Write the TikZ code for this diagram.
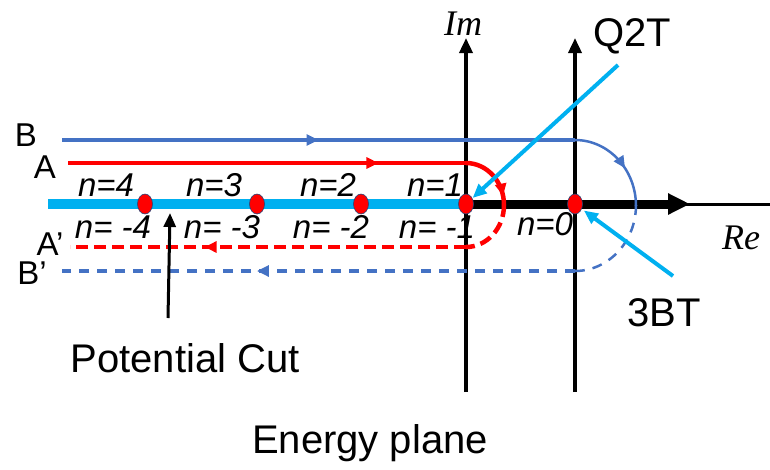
\documentclass[tikz,border=0pt]{standalone}
\usepackage{fontspec}
\setmainfont{Liberation Serif}
\setsansfont{Liberation Sans}
\usepackage{tikz}
\usetikzlibrary{arrows.meta,decorations.markings}
\definecolor{cutcyan}{RGB}{0,176,240}
\definecolor{loopblue}{RGB}{68,114,196}
\definecolor{loopred}{RGB}{255,0,0}
\tikzset{
  lbl/.style={font=\sffamily\fontsize{40}{40}\selectfont},
  endlbl/.style={font=\sffamily\fontsize{33}{33}\selectfont},
  nlbl/.style={font=\sffamily\itshape\fontsize{33}{33}\selectfont},
  axlbl/.style={font=\itshape\fontsize{36}{36}\selectfont},
  midarrow/.style={postaction={decorate},decoration={markings,
      mark=at position #1 with {\arrow{Triangle[length=12pt,width=11pt]}}}},
  blueloop/.style={loopblue,line width=3.5pt},
  redloop/.style={loopred,line width=4.5pt},
  pole/.style={fill=loopred,draw=loopblue!60!black,line width=0.6pt},
  axis/.style={line width=3.5pt,-{Triangle[length=15pt,width=13pt]}}
}
\begin{document}
\begin{tikzpicture}[x=1pt,y=-1pt]
  \useasboundingbox (0,0) rectangle (770,469);
  % cut and real axis
  \coordinate (cutL) at (48,204);
  \coordinate (pA) at (466,204);
  \coordinate (pO) at (575,204);
  \draw[cutcyan,line width=10pt] (cutL) -- (pA);
  \draw[line width=3pt] (pA) -- (770,204);
  \draw[line width=9pt,-{Triangle[length=22pt,width=20pt]}] (pA) -- (690,204);
  % imaginary axes
  \draw[axis] (466,392) -- (466,38);
  \draw[axis] (575,392) -- (575,38);
  \node[axlbl] (im) at (463,24) {Im};
  \node[axlbl] (re) at (741,238) {Re};
  % contour B -> B'
  \coordinate (bIn) at (62,140);
  \coordinate (bTop) at (575,140);
  \coordinate (bBot) at (575,271);
  \coordinate (bOut) at (62,271);
  \draw[blueloop,midarrow=0.5] (bIn) -- (bTop);
  \draw[loopblue,line width=2.5pt,midarrow=0.6] (bTop) arc[start angle=-90,end angle=0,x radius=61,y radius=66];
  \draw[loopblue,line width=2.5pt,dash pattern=on 10pt off 8pt] (636,205) arc[start angle=0,end angle=90,x radius=61,y radius=66];
  \draw[blueloop,dash pattern=on 10pt off 8pt,midarrow=0.62] (bBot) -- (bOut);
  % contour A -> A'
  \coordinate (aIn) at (68,163);
  \coordinate (aTop) at (466,163);
  \coordinate (aBot) at (466,247);
  \coordinate (aOut) at (70,247);
  \draw[redloop,midarrow=0.78] (aIn) -- (aTop);
  \draw[redloop,midarrow=0.85] (aTop) arc[start angle=-90,end angle=0,x radius=38,y radius=42];
  \draw[redloop,dash pattern=on 12pt off 6pt] (504,205) arc[start angle=0,end angle=90,x radius=38,y radius=42];
  \draw[redloop,dash pattern=on 12pt off 6pt,midarrow=0.66] (aBot) -- (aOut);
  \node[endlbl] (lB) at (26,135) {B};
  \node[endlbl] (lA) at (45,167) {A};
  \node[endlbl] (lAp) at (50,244) {A’};
  \node[endlbl] (lBp) at (32,273) {B’};
  % poles
  \foreach \x in {145,257,361,466,575}
    \draw[pole] (\x,204) ellipse (7.5 and 10);
  \foreach \x/\k in {106/4,214/3,328/2,435/1}
    \node[nlbl] (np\k) at (\x,185) {n=\k};
  \foreach \x/\k in {113/4,222/3,331/2,437/1}
    \node[nlbl] (nm\k) at (\x,227) {n= -\k};
  \node[nlbl] (n0) at (545,224) {n=0};
  % thresholds
  \node[lbl] (q2t) at (632,36) {Q2T};
  \coordinate (q2tTail) at (618,65);
  \draw[cutcyan,line width=4pt,-{Triangle[length=14pt,width=12pt]},shorten >=9pt] (q2tTail) -- (pA);
  \node[lbl] (tbt) at (664,313) {3BT};
  \coordinate (tbtTail) at (673,276);
  \draw[cutcyan,line width=4pt,-{Triangle[length=14pt,width=12pt]},shorten >=11pt] (tbtTail) -- (pO);
  % potential cut
  \node[lbl] (cut) at (185,358) {Potential Cut};
  \coordinate (cutTail) at (168,318);
  \coordinate (cutTip) at (170,213);
  \draw[line width=3pt,-{Triangle[length=14pt,width=12pt]}] (cutTail) -- (cutTip);
  \node[lbl] (plane) at (370,443) {Energy plane};
\end{tikzpicture}
\end{document}
